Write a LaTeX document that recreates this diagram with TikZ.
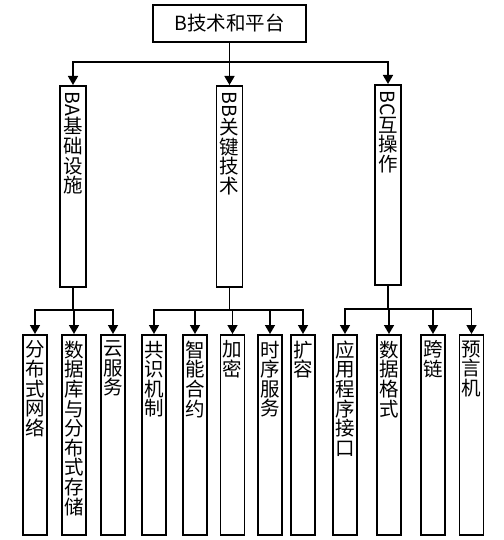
\documentclass[tikz,border=0pt]{standalone}
\usepackage{graphicx}
\usepackage{fontspec}
\setmainfont{Noto Sans CJK SC}
\usetikzlibrary{arrows.meta}

% tall box with its text stacked from the top
\newcommand{\colbox}[3]{\parbox[t][#1][t]{#2}{\centering\vspace*{6pt}#3}}

\begin{document}
\begin{tikzpicture}[
    x=1pt,
    y=-1pt,
    box/.style={
        draw,
        line width=1.6pt,
        inner sep=0pt,
        font=\fontsize{19.5}{19.6}\selectfont
    },
    top/.style={
        box,
        minimum width=153pt,
        minimum height=37pt
    },
    mid/.style={
        box,
        anchor=north
    },
    leaf/.style={
        box,
        anchor=north
    },
    link/.style={
        line width=1.6pt,
        -{Triangle[width=10pt,length=9pt]}
    }
]

    \useasboundingbox (0,0) rectangle (503,540);

    \node[top] (root) at (229.5,23.5) {B技术和平台};

    \node[mid] (ba) at (73,85) {\colbox{201pt}{26pt}{\rotatebox{-90}{BA}\\基\\础\\设\\施}};
    \node[mid] (bb) at (229.5,85) {\colbox{201pt}{26pt}{\rotatebox{-90}{BB}\\关\\键\\技\\术}};
    \node[mid] (bc) at (388,84) {\colbox{200pt}{26pt}{\rotatebox{-90}{BC}\\互\\操\\作}};

    \node[leaf] (fbwl) at (35,334) {\colbox{200pt}{24pt}{分\\布\\式\\网\\络}};
    \node[leaf] (sjk) at (74,334) {\colbox{200pt}{24pt}{数\\据\\库\\与\\分\\布\\式\\存\\储}};
    \node[leaf] (yfw) at (113,334) {\colbox{200pt}{24pt}{云\\服\\务}};

    \node[leaf] (gsjz) at (154,334) {\colbox{200pt}{24pt}{共\\识\\机\\制}};
    \node[leaf] (znhy) at (195,334) {\colbox{200pt}{24pt}{智\\能\\合\\约}};
    \node[leaf] (jm) at (232.5,334) {\colbox{200pt}{24pt}{加\\密}};
    \node[leaf] (sxfw) at (270,334) {\colbox{200pt}{24pt}{时\\序\\服\\务}};
    \node[leaf] (kr) at (303,334) {\colbox{200pt}{24pt}{扩\\容}};

    \node[leaf] (yyjk) at (345,334) {\colbox{200pt}{24pt}{应\\用\\程\\序\\接\\口}};
    \node[leaf] (sjgs) at (389,334) {\colbox{200pt}{24pt}{数\\据\\格\\式}};
    \node[leaf] (kl) at (433,334) {\colbox{200pt}{24pt}{跨\\链}};
    \node[leaf] (yyj) at (471.5,334) {\colbox{200pt}{24pt}{预\\言\\机}};

    % bus points
    \coordinate (busR) at (229.5,62);
    \coordinate (busA) at (73,310);
    \coordinate (busB) at (229.5,310);
    \coordinate (busC) at (388,309);

    \draw[link] (root.south) -- (busR) -| (ba.north);
    \draw[link] (root.south) -- (busR) -| (bb.north);
    \draw[link] (root.south) -- (busR) -| (bc.north);

    \foreach \c in {fbwl,sjk,yfw}
        \draw[link] (ba.south) -- (busA) -| (\c.north);
    \foreach \c in {gsjz,znhy,jm,sxfw,kr}
        \draw[link] (bb.south) -- (busB) -| (\c.north);
    \foreach \c in {yyjk,sjgs,kl,yyj}
        \draw[link] (bc.south) -- (busC) -| (\c.north);

\end{tikzpicture}
\end{document}
